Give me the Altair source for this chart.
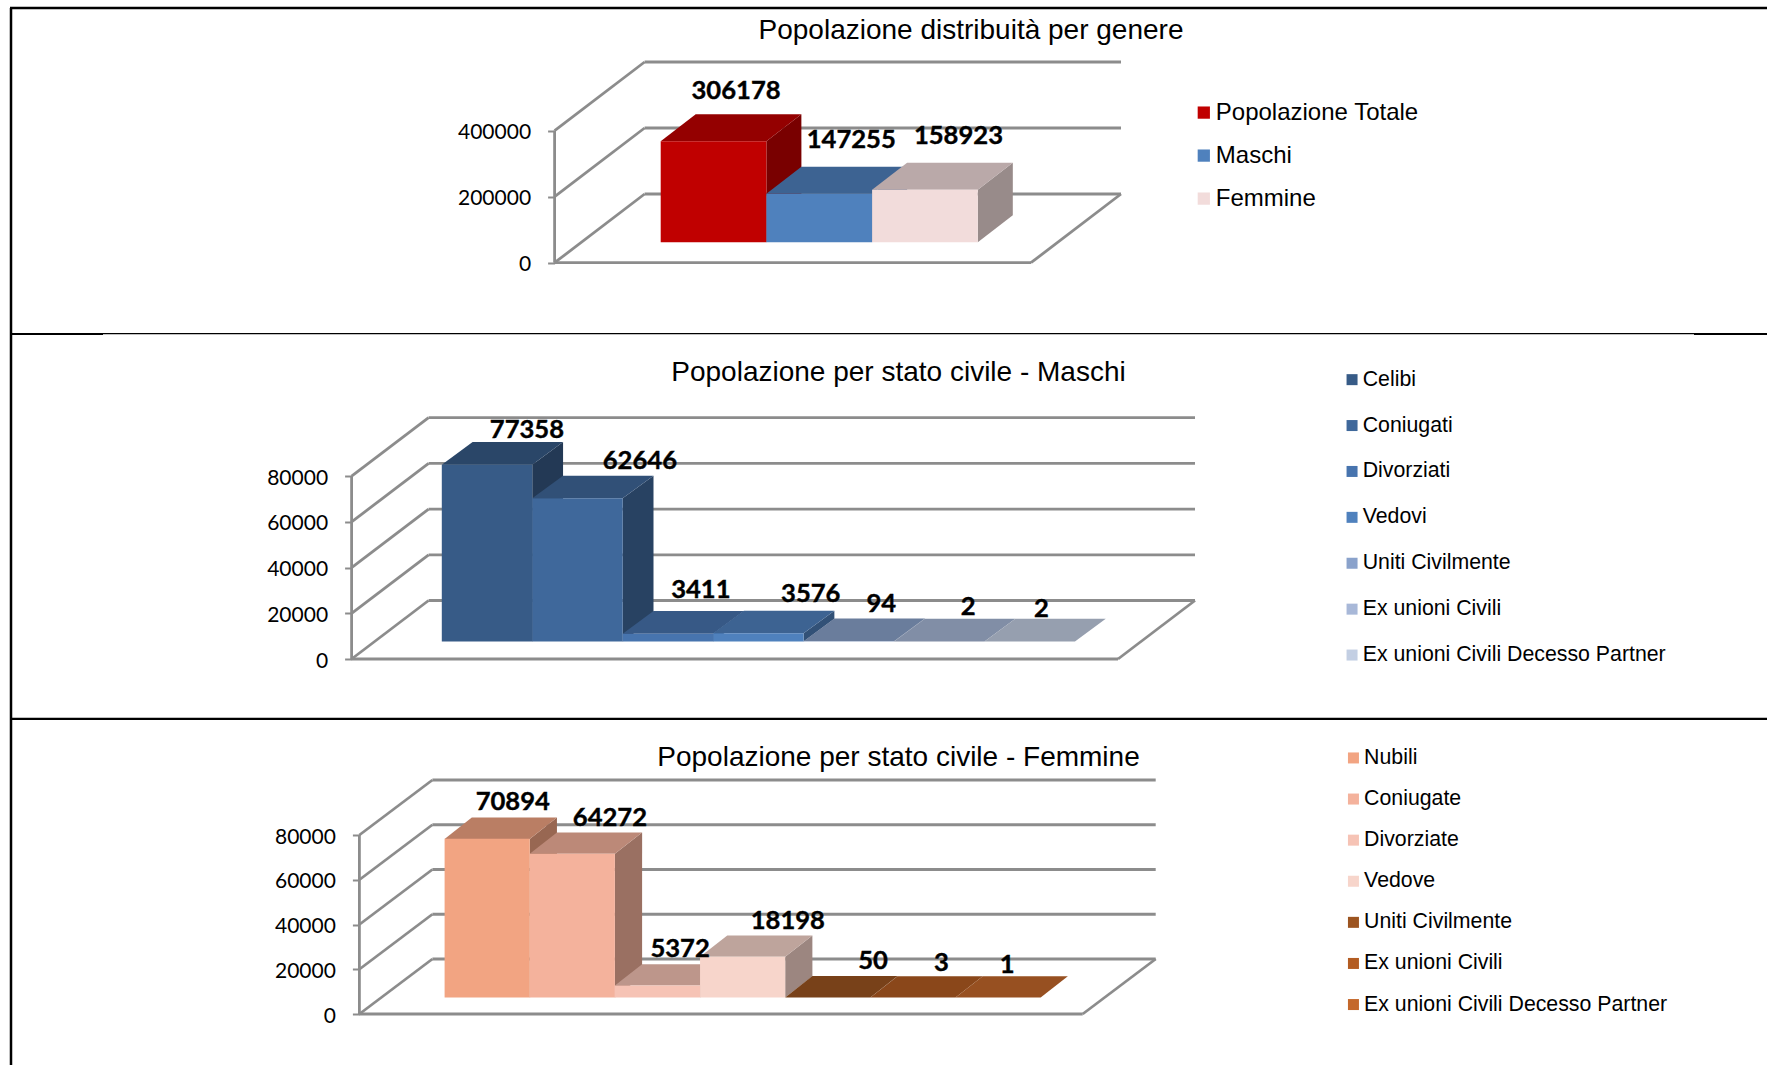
import altair as alt
import pandas as pd

PAGE_W = 1767
GRAY = "#8c8c8c"

# ---- values shown by the three charts ----
genere_cat = ["Popolazione Totale", "Maschi", "Femmine"]
genere_val = [306178, 147255, 158923]
genere_col = ["#C00000", "#4F81BD", "#F2DCDB"]

maschi_cat = ["Celibi", "Coniugati", "Divorziati", "Vedovi", "Uniti Civilmente",
              "Ex unioni Civili", "Ex unioni Civili Decesso Partner"]
maschi_val = [77358, 62646, 3411, 3576, 94, 2, 2]
maschi_col = ["#375B87", "#3F689B", "#4774AE", "#4F81BD", "#8AA2CB", "#A8B8D8", "#C3CFE3"]

femmine_cat = ["Nubili", "Coniugate", "Divorziate", "Vedove", "Uniti Civilmente",
               "Ex unioni Civili", "Ex unioni Civili Decesso Partner"]
femmine_val = [70894, 64272, 5372, 18198, 50, 3, 1]
femmine_col = ["#F2A482", "#F4B29C", "#F6C3B5", "#F7D5CB", "#9C5420", "#B35C22", "#C4682B"]


def shade(hex_colour, factor):
    """Darken a colour for the faces of a box that catch less light."""
    r, g, b = (int(hex_colour[i:i + 2], 16) for i in (1, 3, 5))
    return "#%02x%02x%02x" % (round(r * factor), round(g * factor), round(b * factor))


def panel(title, cats, vals, cols, ticks, geo, frame_layers):
    H = geo["H"]
    k = geo["k"]          # pixels per unit of value
    w = geo["bar_w"]
    to_u = lambda px: (px - geo["bar_left"]) / w
    y0 = geo["floor_y"]

    x_scale = alt.Scale(domain=[to_u(0), to_u(PAGE_W)], range=[0, PAGE_W], nice=False, zero=False)
    y_scale = alt.Scale(domain=[(y0 - H) / k, y0 / k], range=[H, 0], nice=False, zero=False)
    y_axis = alt.Axis(
        values=ticks, title=None, grid=False, domain=False, format="d",
        offset=-geo["left"], tickColor=GRAY, tickWidth=2, tickSize=7,
        labelFont="Lato", labelFontSize=21, labelColor="#000000", labelOffset=2,
        labelPadding=geo["label_pad"], labelOverlap=False)

    def X(f="x"):
        return alt.X(f"{f}:Q", scale=x_scale, axis=None)

    def Y(f="y"):
        return alt.Y(f"{f}:Q", scale=y_scale, axis=y_axis)

    du_floor = geo["floor_dx"] / w
    dv_floor = geo["floor_dy"] / k
    du_bar = geo["bar_dx"] / w
    dv_bar = geo["bar_dy"] / k
    base = (y0 - geo["bar_bottom"]) / k
    uL = to_u(geo["left"])
    uR = to_u(geo["right"])
    uBackR = uR + du_floor

    # Wireframe of the box: front axis, side slants, back wall gridlines, floor.
    wire = []

    def seg(a, b, c, d):
        n = len(wire) // 2
        wire.append({"id": n, "o": 0, "x": a, "y": b})
        wire.append({"id": n, "o": 1, "x": c, "y": d})

    seg(uL, 0, uL, ticks[-1])
    for t in ticks:
        seg(uL, t, uL + du_floor, t + dv_floor)
        seg(uL + du_floor, t + dv_floor, uBackR, t + dv_floor)
    seg(uL, 0, uR, 0)
    seg(uR, 0, uBackR, dv_floor)

    wire_layer = alt.Chart(pd.DataFrame(wire)).mark_line(color=GRAY, strokeWidth=2.8).encode(
        x=X(), y=Y(), detail="id:N", order="o:Q",
    )

    sides, tops, fronts, labels = [], [], [], []
    for i, (c, v, col) in enumerate(zip(cats, vals, cols)):
        top = base + v
        sides.append({"id": i, "x": i + 1, "y": top, "y2": base, "c": shade(col, 0.63)})
        sides.append({"id": i, "x": i + 1 + du_bar, "y": top + dv_bar, "y2": base + dv_bar, "c": shade(col, 0.63)})
        tops.append({"id": i, "y": top, "x": i, "x2": i + 1, "c": shade(col, 0.77)})
        tops.append({"id": i, "y": top + dv_bar, "x": i + du_bar, "x2": i + 1 + du_bar, "c": shade(col, 0.77)})
        fronts.append({"cat": c, "x": i, "x2": i + 1, "y": base, "y2": top})
        nx, ny = geo["nudge"][i]
        labels.append({"x": i + 0.5 + du_bar / 2 + nx / w, "y": top + dv_bar + ny / k, "t": str(v)})

    side_layer = alt.Chart(pd.DataFrame(sides)).mark_area(opacity=1, orient="vertical").encode(
        x=X(), y=Y(), y2="y2:Q", color=alt.Color("c:N", scale=None), detail="id:N")
    top_layer = alt.Chart(pd.DataFrame(tops)).mark_area(opacity=1, orient="horizontal").encode(
        y=Y(), x=X(), x2="x2:Q", color=alt.Color("c:N", scale=None), detail="id:N")
    front_layer = alt.Chart(pd.DataFrame(fronts)).mark_rect().encode(
        x=X(), x2="x2:Q", y=Y(), y2="y2:Q",
        color=alt.Color("cat:N", scale=alt.Scale(domain=cats, range=cols), legend=alt.Legend(
            title=None, orient="none", legendX=geo["legend_x"], legendY=geo["legend_y"],
            symbolType="square", symbolSize=geo["sym"], symbolStrokeWidth=0,
            labelFont="Liberation Sans", labelFontSize=geo["legend_font"], labelColor="#000000",
            labelOffset=0, rowPadding=geo["row_pad"], labelLimit=500)),
    )
    label_layer = alt.Chart(pd.DataFrame(labels)).mark_text(
        font="Lato", fontWeight="bold", fontSize=25.6, color="#000000", baseline="middle",
        stroke="#000000", strokeWidth=0.4, dy=1,
    ).encode(x=X(), y=Y(), text="t:N")
    title_layer = alt.Chart(alt.Data(values=[{}])).mark_text(
        font="Liberation Sans", fontSize=28, color="#000000", align="center", baseline="alphabetic"
    ).encode(x=alt.value(geo["title_x"]), y=alt.value(geo["title_y"]), text=alt.value(title))

    return alt.layer(wire_layer, side_layer, top_layer, front_layer, label_layer,
                     title_layer, *frame_layers).properties(width=PAGE_W, height=H)


def hline(y, x1, x2, width):
    return alt.Chart(alt.Data(values=[{}])).mark_rule(color="#000000", strokeWidth=width, clip=True).encode(
        x=alt.value(x1), x2=alt.value(x2), y=alt.value(y))


def vline(x, y1, y2, width):
    return alt.Chart(alt.Data(values=[{}])).mark_rule(color="#000000", strokeWidth=width, clip=True).encode(
        y=alt.value(y1), y2=alt.value(y2), x=alt.value(x))


geo1 = dict(H=336, k=66.0 / 200000, bar_w=105.7, bar_left=660.7, bar_bottom=242.3, floor_y=262.7,
            left=554.6, right=1031, floor_dx=90, floor_dy=68.7, bar_dx=35, bar_dy=27, label_pad=17,
            nudge=[(5, 24), (14.5, 27.7), (16, 27.7)],
            legend_x=1191.8, legend_y=100.6, sym=150, legend_font=24, row_pad=19,
            title_x=971, title_y=39)
geo2 = dict(H=384, k=45.7 / 20000, bar_w=90.45, bar_left=441.8, bar_bottom=641.5 - 336, floor_y=659 - 336,
            left=351.6, right=1118, floor_dx=77, floor_dy=58.5, bar_dx=30.8, bar_dy=22.7, label_pad=17,
            nudge=[(24.5, 13), (47, 16), (17.5, 22), (37, 18), (17, 16), (13.6, 13), (-3.7, 11)],
            legend_x=1341.4, legend_y=33, sym=121, legend_font=21.3, row_pad=23.9,
            title_x=898.5, title_y=44.7)
geo3 = dict(H=345, k=44.75 / 20000, bar_w=85.15, bar_left=444.6, bar_bottom=997.5 - 720, floor_y=1014 - 720,
            left=359.4, right=1082.7, floor_dx=73, floor_dy=55, bar_dx=27.2, bar_dy=21.3, label_pad=17,
            nudge=[(12, 16.7), (24, 15.4), (9, 16.5), (31.6, 15), (31.7, 16), (14.8, 14.3), (-4.5, 11.7)],
            legend_x=1342.8, legend_y=27.3, sym=121, legend_font=21.3, row_pad=19.1,
            title_x=898.5, title_y=45.7)

# Ruled frame around the charts: the first divider is thin except at its two ends.
frame1 = [hline(8, 10, PAGE_W, 2.5), vline(11, 8, 336, 2.5),
          hline(333.6, 11, PAGE_W, 1.3), hline(334, 11, 103, 2.2), hline(334, 1694, PAGE_W, 2.2)]
frame2 = [vline(11, 0, 384, 2.5), hline(382.8, 11, PAGE_W, 2.2)]
frame3 = [vline(11, 0, 345, 2.5)]

chart = alt.vconcat(
    panel("Popolazione distribuità per genere", genere_cat, genere_val, genere_col,
          [0, 200000, 400000], geo1, frame1),
    panel("Popolazione per stato civile - Maschi", maschi_cat, maschi_val, maschi_col,
          [0, 20000, 40000, 60000, 80000], geo2, frame2),
    panel("Popolazione per stato civile - Femmine", femmine_cat, femmine_val, femmine_col,
          [0, 20000, 40000, 60000, 80000], geo3, frame3),
    spacing=0, bounds="flush",
).resolve_scale(color="independent").resolve_legend(color="independent").properties(
    padding=0, background="#ffffff").configure_view(stroke=None)

chart.save("out.html", embed_options={"renderer": "svg", "actions": False})
